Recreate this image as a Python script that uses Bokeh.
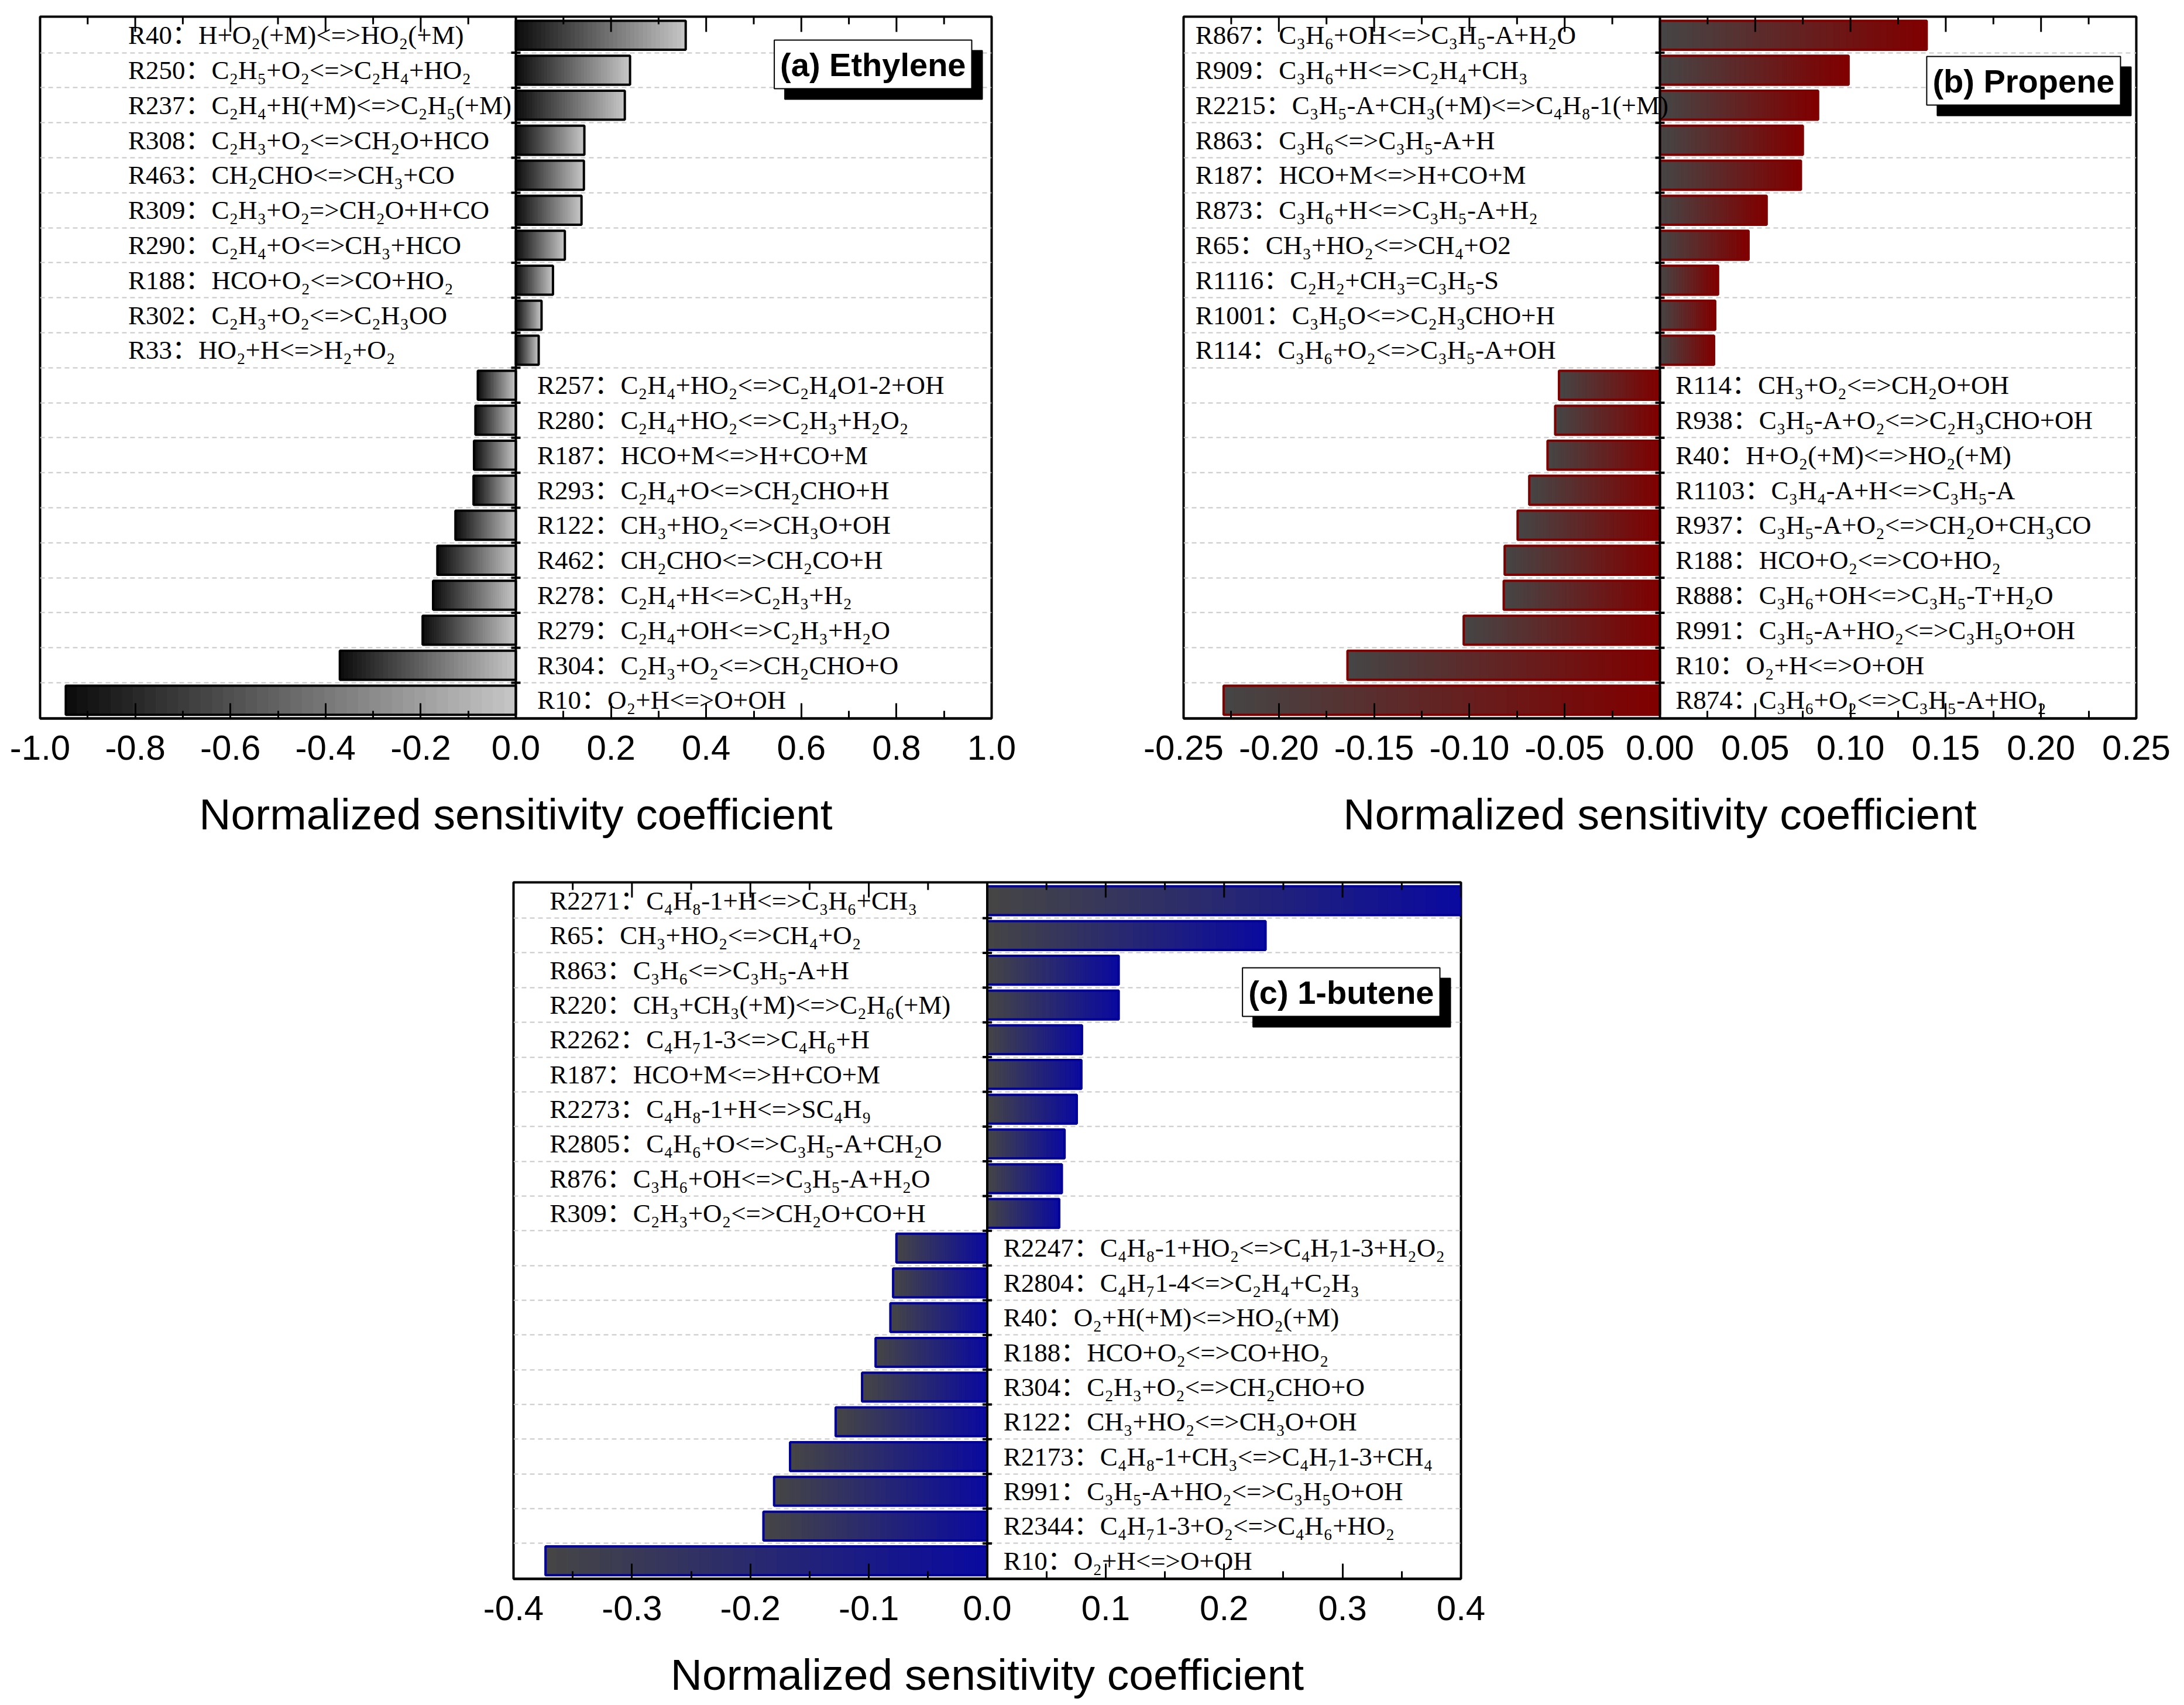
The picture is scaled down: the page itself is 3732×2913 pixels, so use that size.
import math

from bokeh.plotting import figure
from bokeh.layouts import column, row
from bokeh.models import (SingleIntervalTicker, FixedTicker, PrintfTickFormatter,
                          Label, Spacer, Span)
from bokeh.core.properties import value
from bokeh.embed import file_html
from bokeh.resources import INLINE

# (a) Ethylene
eth_labels = [
    "R40：H+O₂(+M)<=>HO₂(+M)",
    "R250：C₂H₅+O₂<=>C₂H₄+HO₂",
    "R237：C₂H₄+H(+M)<=>C₂H₅(+M)",
    "R308：C₂H₃+O₂<=>CH₂O+HCO",
    "R463：CH₂CHO<=>CH₃+CO",
    "R309：C₂H₃+O₂=>CH₂O+H+CO",
    "R290：C₂H₄+O<=>CH₃+HCO",
    "R188：HCO+O₂<=>CO+HO₂",
    "R302：C₂H₃+O₂<=>C₂H₃OO",
    "R33：HO₂+H<=>H₂+O₂",
    "R257：C₂H₄+HO₂<=>C₂H₄O1-2+OH",
    "R280：C₂H₄+HO₂<=>C₂H₃+H₂O₂",
    "R187：HCO+M<=>H+CO+M",
    "R293：C₂H₄+O<=>CH₂CHO+H",
    "R122：CH₃+HO₂<=>CH₃O+OH",
    "R462：CH₂CHO<=>CH₂CO+H",
    "R278：C₂H₄+H<=>C₂H₃+H₂",
    "R279：C₂H₄+OH<=>C₂H₃+H₂O",
    "R304：C₂H₃+O₂<=>CH₂CHO+O",
    "R10：O₂+H<=>O+OH",
]
eth_values = [0.357, 0.240, 0.229, 0.144, 0.143, 0.138, 0.103, 0.078, 0.054, 0.048,
              -0.080, -0.085, -0.088, -0.089, -0.127, -0.165, -0.174, -0.196, -0.370, -0.946]

# (b) Propene
pro_labels = [
    "R867：C₃H₆+OH<=>C₃H₅-A+H₂O",
    "R909：C₃H₆+H<=>C₂H₄+CH₃",
    "R2215：C₃H₅-A+CH₃(+M)<=>C₄H₈-1(+M)",
    "R863：C₃H₆<=>C₃H₅-A+H",
    "R187：HCO+M<=>H+CO+M",
    "R873：C₃H₆+H<=>C₃H₅-A+H₂",
    "R65：CH₃+HO₂<=>CH₄+O2",
    "R1116：C₂H₂+CH₃=C₃H₅-S",
    "R1001：C₃H₅O<=>C₂H₃CHO+H",
    "R114：C₃H₆+O₂<=>C₃H₅-A+OH",
    "R114：CH₃+O₂<=>CH₂O+OH",
    "R938：C₃H₅-A+O₂<=>C₂H₃CHO+OH",
    "R40：H+O₂(+M)<=>HO₂(+M)",
    "R1103：C₃H₄-A+H<=>C₃H₅-A",
    "R937：C₃H₅-A+O₂<=>CH₂O+CH₃CO",
    "R188：HCO+O₂<=>CO+HO₂",
    "R888：C₃H₆+OH<=>C₃H₅-T+H₂O",
    "R991：C₃H₅-A+HO₂<=>C₃H₅O+OH",
    "R10：O₂+H<=>O+OH",
    "R874：C₃H₆+O₂<=>C₃H₅-A+HO₂",
]
pro_values = [0.140, 0.099, 0.083, 0.075, 0.074, 0.056, 0.0465, 0.0305, 0.029, 0.0284,
              -0.053, -0.055, -0.059, -0.0686, -0.0747, -0.0815, -0.082, -0.103, -0.164, -0.229]

# (c) 1-butene
but_labels = [
    "R2271：C₄H₈-1+H<=>C₃H₆+CH₃",
    "R65：CH₃+HO₂<=>CH₄+O₂",
    "R863：C₃H₆<=>C₃H₅-A+H",
    "R220：CH₃+CH₃(+M)<=>C₂H₆(+M)",
    "R2262：C₄H₇1-3<=>C₄H₆+H",
    "R187：HCO+M<=>H+CO+M",
    "R2273：C₄H₈-1+H<=>SC₄H₉",
    "R2805：C₄H₆+O<=>C₃H₅-A+CH₂O",
    "R876：C₃H₆+OH<=>C₃H₅-A+H₂O",
    "R309：C₂H₃+O₂<=>CH₂O+CO+H",
    "R2247：C₄H₈-1+HO₂<=>C₄H₇1-3+H₂O₂",
    "R2804：C₄H₇1-4<=>C₂H₄+C₂H₃",
    "R40：O₂+H(+M)<=>HO₂(+M)",
    "R188：HCO+O₂<=>CO+HO₂",
    "R304：C₂H₃+O₂<=>CH₂CHO+O",
    "R122：CH₃+HO₂<=>CH₃O+OH",
    "R2173：C₄H₈-1+CH₃<=>C₄H₇1-3+CH₄",
    "R991：C₃H₅-A+HO₂<=>C₃H₅O+OH",
    "R2344：C₄H₇1-3+O₂<=>C₄H₆+HO₂",
    "R10：O₂+H<=>O+OH",
]
but_values = [0.40, 0.235, 0.111, 0.111, 0.080, 0.0795, 0.0756, 0.0653, 0.063, 0.0608,
              -0.0767, -0.0795, -0.0818, -0.0943, -0.1057, -0.128, -0.1665, -0.180, -0.189, -0.373]

SANS = "Liberation Sans"
SERIF = "Liberation Serif, Noto Sans CJK SC"
XTITLE = "Normalized sensitivity coefficient"
NSEG = 40


def mix(c0, c1, t):
    a = [int(c0[i:i + 2], 16) for i in (1, 3, 5)]
    b = [int(c1[i:i + 2], 16) for i in (1, 3, 5)]
    return "#%02x%02x%02x" % tuple(round(a[k] + (b[k] - a[k]) * t) for k in range(3))


def make_panel(labels, vals, xmax, step, fmt, dark, light, edge, pos_x, neg_x,
               tag, box_dx, box_dy, fw, fh, bl, br, bt, bb):
    n = len(vals)
    ytop = -0.53
    p = figure(frame_width=fw, frame_height=fh, x_range=(-xmax, xmax),
               y_range=(n - 0.48, ytop), output_backend="svg", toolbar_location=None,
               min_border_left=bl, min_border_right=br, min_border_top=bt,
               min_border_bottom=bb, background_fill_color="white")
    p.outline_line_color = "black"
    p.outline_line_width = 4

    # gradient bars: thin slices from dark (left) to light (right)
    ys, lefts, rights, cols = [], [], [], []
    for i, v in enumerate(vals):
        lo, hi = min(0, v), max(0, v)
        for k in range(NSEG):
            ys.append(i)
            lefts.append(lo + (hi - lo) * k / NSEG)
            rights.append(lo + (hi - lo) * (k + 1) / NSEG)
            cols.append(mix(dark, light, k / (NSEG - 1)))
    p.hbar(y=ys, left=lefts, right=rights, height=0.83, fill_color=cols,
           line_color=cols, line_width=1)
    p.hbar(y=list(range(n)), left=[min(0, v) for v in vals], right=[max(0, v) for v in vals],
           height=0.83, fill_color=None, line_color=edge, line_width=4)

    p.text(x=[pos_x if v > 0 else neg_x for v in vals], y=list(range(n)), text=labels,
           text_font=value(SERIF), text_font_size="45px", text_baseline="middle",
           text_align="left", text_color="black")

    bounds = [k + 0.5 for k in range(n - 1)]
    p.xgrid.visible = False
    p.ygrid.ticker = FixedTicker(ticks=bounds)
    p.ygrid.grid_line_color = "#c8c8c8"
    p.ygrid.grid_line_width = 2
    p.ygrid.grid_line_dash = "8 6"

    # zero line with its small row ticks (Origin style)
    p.yaxis.visible = False
    p.add_layout(Span(location=0, dimension="height", line_color="black", line_width=4))
    p.scatter(x=[0] * len(bounds), y=bounds, marker="dash", size=16,
              line_color="black", line_width=4)

    # inward ticks on the top frame
    nstep = round(2 * xmax / step)
    majors = [-xmax + i * step for i in range(nstep + 1)]
    minors = [-xmax + (i + 0.5) * step for i in range(nstep)]
    p.scatter(x=majors, y=[ytop] * len(majors), marker="dash", angle=math.pi / 2,
              size=52, line_color="black", line_width=3)
    p.scatter(x=minors, y=[ytop] * len(minors), marker="dash", angle=math.pi / 2,
              size=26, line_color="black", line_width=3)

    xa = p.xaxis[0]
    xa.ticker = SingleIntervalTicker(interval=step, num_minor_ticks=2)
    xa.formatter = PrintfTickFormatter(format=fmt)
    xa.major_tick_in = 26
    xa.major_tick_out = 0
    xa.minor_tick_in = 13
    xa.minor_tick_out = 0
    xa.major_tick_line_width = 3
    xa.minor_tick_line_width = 3
    xa.axis_line_width = 4
    xa.major_label_text_font = SANS
    xa.major_label_text_font_size = "60px"
    xa.major_label_text_color = "black"
    xa.major_label_standoff = 29
    xa.axis_label = XTITLE
    xa.axis_label_text_font = SANS
    xa.axis_label_text_font_size = "75px"
    xa.axis_label_text_font_style = "normal"
    xa.axis_label_text_color = "black"
    xa.axis_label_standoff = 48

    pad = 10
    for dx, dy, bg in ((18, -18, "black"), (0, 0, "white")):
        p.add_layout(Label(x=xmax, y=ytop, x_offset=-(box_dx + pad) + dx,
                           y_offset=-(box_dy + pad) + dy, text=tag, text_align="right",
                           text_baseline="top", text_font=SANS, text_font_size="56px",
                           text_font_style="bold", text_color="black", padding=pad,
                           background_fill_color=bg, border_line_color="black",
                           border_line_width=2))
    return p


pa = make_panel(eth_labels, eth_values, 1.0, 0.2, "%.1f", "#0d0d0d", "#c4c4c4", "black",
                -0.815, 0.045, "(a) Ethylene", 24, 30, 1626, 1199, 68, 164, 28, 240)
pb = make_panel(pro_labels, pro_values, 0.25, 0.05, "%.2f", "#454545", "#800000", "#800000",
                -0.2438, 0.0082, "(b) Propene", 17, 58, 1628, 1199, 164, 66, 28, 240)
pc = make_panel(but_labels, but_values, 0.4, 0.1, "%.1f", "#454545", "#0a0a9e", "#000099",
                -0.3695, 0.0137, "(c) 1-butene", 26, 136, 1619, 1190, 100, 100, 40, 200)

page = column(row(pa, pb), row(Spacer(width=777, height=10), pc))
open("out.html", "w").write(file_html(page, INLINE))
